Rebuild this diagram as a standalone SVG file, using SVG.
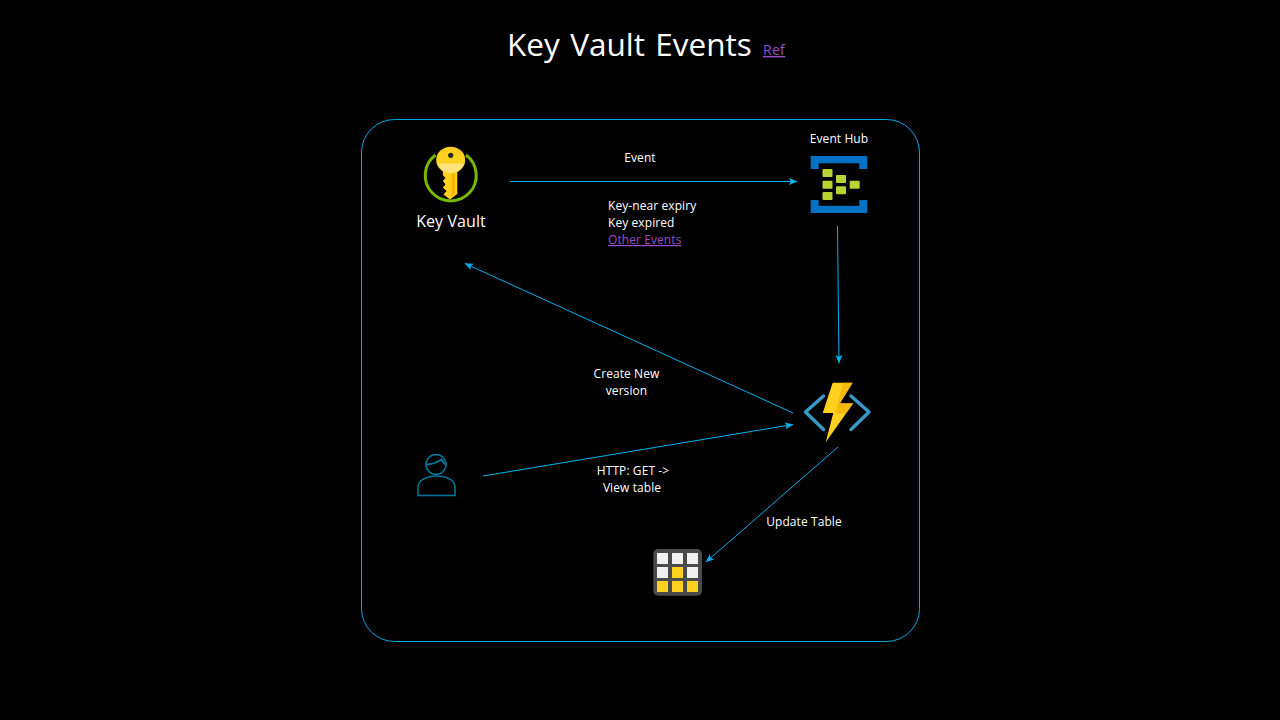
<svg xmlns="http://www.w3.org/2000/svg" width="1280" height="720" viewBox="0 0 1280 720">
<defs>
<marker id="a" markerWidth="9" markerHeight="8" refX="8" refY="4" orient="auto" markerUnits="userSpaceOnUse"><path d="M0 0.500L8.500 4L0 7.500L1.800 4Z" fill="#00b0f0"/></marker>
</defs>
<style>
text{font-family:"Open Sans","Noto Sans","Liberation Sans",sans-serif;fill:#fff;font-size:12px;letter-spacing:.08px}
.c{stroke:#00b0f0;stroke-width:1;fill:none;marker-end:url(#a)}
.l{fill:#954fc8;text-decoration:underline}
.m{text-anchor:middle}
.eh{fill:#b8d432}
.cell{fill:#f0f0f0}
.cy{fill:#ffd01f}
</style>
<rect width="1280" height="720" fill="#000"/>
<g id="title">
<text x="507" y="56" style="font-size:31.500px;word-spacing:2.200px;letter-spacing:0">Key Vault Events</text>
<text x="763" y="55" class="l" style="font-size:14px;letter-spacing:.3px">Ref</text>
</g>
<rect id="frame" x="361.500" y="119.500" width="558" height="522" rx="33" fill="none" stroke="#00a8e4" stroke-width="1"/>
<g id="connectors">
<path class="c" d="M510 181.500H797"/>
<path class="c" d="M837.500 226L839 363"/>
<path class="c" d="M793 413L465 263.500"/>
<path class="c" d="M483 476L793 424.500"/>
<path class="c" d="M838 447L706 562"/>
</g>
<g id="key-vault">
<path d="M435.500 155A25.500 25.500 0 1 0 466 155" fill="none" stroke="#76b900" stroke-width="3"/>
<path d="M443 170H457.300V194L450 199.500L443.500 194.500L446.500 191L442.800 187.500L445.500 184.500L442.800 181L445.500 178L442.800 175Z" fill="#ffd01f"/>
<path d="M451.700 170H455V194L451.700 197Z" fill="#f7b500"/>
<ellipse cx="450.700" cy="160" rx="14.500" ry="13.300" fill="#ffd01f"/>
<path d="M437.500 163.500H464C462 169.500 456 173.300 450.700 173.300C445 173.300 439.500 169.500 437.500 163.500Z" fill="#ffe27a"/>
<circle cx="450.700" cy="155.300" r="2.600" fill="#2a2a2a"/>
<text x="451" y="227" class="m" style="font-size:16px">Key Vault</text>
</g>
<g id="event-hub">
<text x="839" y="143" class="m">Event Hub</text>
<path d="M810.700 156H867.300V169H859.300V163.300H818.700V169H810.700Z" fill="#0072c6"/>
<path d="M810.700 213H867.300V200H859.300V205.700H818.700V200H810.700Z" fill="#0072c6"/>
<rect class="eh" x="822.500" y="169" width="10" height="8" rx="1"/>
<rect class="eh" x="822.500" y="180.700" width="10" height="8" rx="1"/>
<rect class="eh" x="822.500" y="192" width="10" height="8" rx="1"/>
<rect class="eh" x="836" y="175" width="10" height="8" rx="1"/>
<rect class="eh" x="836" y="186.300" width="10" height="8" rx="1"/>
<rect class="eh" x="849.700" y="180.700" width="10" height="8" rx="1"/>
</g>
<g id="function">
<path d="M823.500 396L805.500 412L823.500 429.500M851 396L869 412L851 429.500" fill="none" stroke="#3999c6" stroke-width="3.500" stroke-linecap="round" stroke-linejoin="round"/>
<path d="M832.700 382.700H852.700L840 403.300H853.300L825.700 442.300L833.300 413H822.700Z" fill="#ffd01f"/>
<path d="M843 382.700H852.700L840 403.300H853.300L846 413.500H835.500L838 403.300Z" fill="#f5a800" opacity=".6"/>
</g>
<g id="user" fill="none" stroke="#00779c" stroke-width="1.500">
<circle cx="436" cy="464.500" r="10"/>
<path d="M426.500 464.500C431 464.500 436 463 441.500 459.500C443 462 444.500 464 446 464.500" stroke-width="2"/>
<path d="M418 495.500H455V487C455 480 446 476 436.500 476C427 476 418 480 418 487Z"/>
</g>
<g id="table">
<rect x="653.300" y="549" width="48.700" height="46.700" rx="5" fill="#4a4a4a"/>
<rect class="cell" x="657" y="553" width="11" height="11"/>
<rect class="cell" x="672" y="553" width="11" height="11"/>
<rect class="cell" x="687" y="553" width="11" height="11"/>
<rect class="cell" x="657" y="567" width="11" height="11"/>
<rect class="cy" x="672" y="567" width="11" height="11"/>
<rect class="cell" x="687" y="567" width="11" height="11"/>
<rect class="cy" x="657" y="581" width="11" height="11"/>
<rect class="cy" x="672" y="581" width="11" height="11"/>
<rect class="cy" x="687" y="581" width="11" height="11"/>
</g>
<g id="labels">
<text x="640" y="162" class="m">Event</text>
<text x="608" y="210">Key-near expiry</text>
<text x="608" y="227">Key expired</text>
<text x="608" y="244" class="l">Other Events</text>
<text x="626.500" y="378" class="m">Create New</text>
<text x="626.500" y="395" class="m">version</text>
<text x="633" y="475" class="m">HTTP: GET -&gt;</text>
<text x="632" y="492" class="m">View table</text>
<text x="804" y="526" class="m">Update Table</text>
</g>
</svg>
